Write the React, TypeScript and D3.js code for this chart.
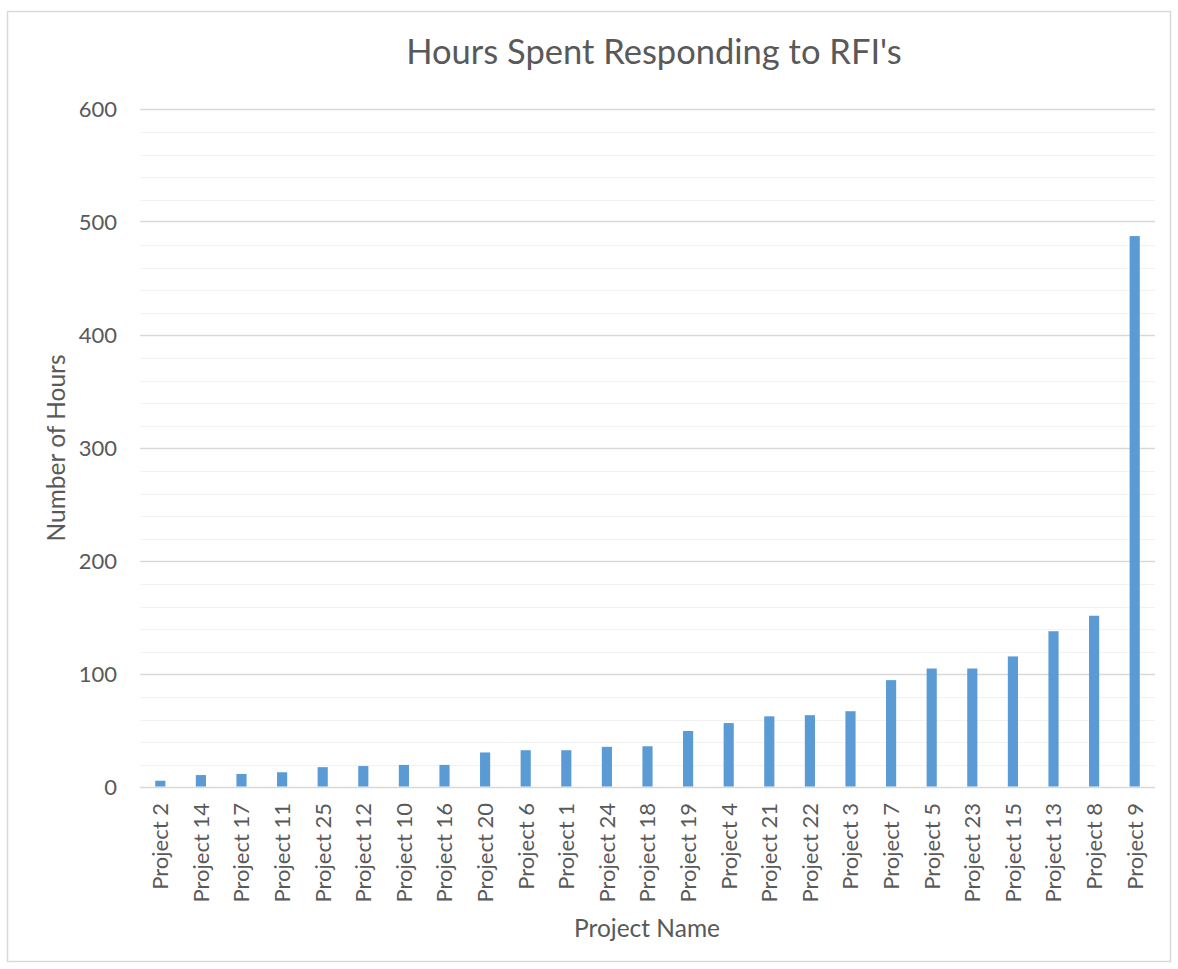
import React from "react";
import * as d3 from "d3";

const categories = [
  "Project 2", "Project 14", "Project 17", "Project 11", "Project 25",
  "Project 12", "Project 10", "Project 16", "Project 20", "Project 6",
  "Project 1", "Project 24", "Project 18", "Project 19", "Project 4",
  "Project 21", "Project 22", "Project 3", "Project 7", "Project 5",
  "Project 23", "Project 15", "Project 13", "Project 8", "Project 9",
];
const hours = [
  6, 11, 12, 13.5, 18, 19, 20, 20, 31, 33,
  33, 36, 36.5, 50, 57, 63, 64, 67.5, 95, 105.3,
  105.3, 116, 138.3, 152, 488,
];
const majorTicks = [0, 100, 200, 300, 400, 500, 600];
const minorTicks = d3.range(0, 601, 20);

const W = 1178;
const H = 969;
const FONT = "Lato, 'Open Sans', sans-serif";
const TXT = "#595959";

export default function App() {
  const x = d3.scaleBand<string>().domain(categories).range([140, 1155]).paddingInner(0).paddingOuter(0);
  const y = d3.scaleLinear().domain([0, 600]).range([787.5, 109.5]);
  const bw = x.bandwidth() / 4;
  return (
    <svg width={W} height={H} style={{ position: "absolute", left: 0, top: 0 }} fontFamily={FONT}>
      <rect x={0} y={0} width={W} height={H} fill="#fff" />
      <rect x={7.5} y={11.5} width={1163} height={950} fill="none" stroke="#d9d9d9" strokeWidth={1.5} />
      <text x={654} y={64} textAnchor="middle" fontSize={34.5} fill={TXT}>Hours Spent Responding to RFI's</text>
      {minorTicks.filter((t) => t % 100 !== 0).map((t) => (
        <line key={"m" + t} x1={140} x2={1155} y1={Math.round(y(t)) + 0.5} y2={Math.round(y(t)) + 0.5} stroke="#f2f2f2" strokeWidth={1.2} />
      ))}
      {majorTicks.map((t) => (
        <line key={"M" + t} x1={140} x2={1155} y1={Math.round(y(t)) - 0.5} y2={Math.round(y(t)) - 0.5} stroke="#d9d9d9" strokeWidth={1.3} />
      ))}
      {majorTicks.map((t) => (
        <text key={"t" + t} x={117} y={y(t)} dy="0.36em" textAnchor="end" fontSize={22} fill={TXT}>{t}</text>
      ))}
      {categories.map((c, i) => (
        <rect key={c} x={(x(c) as number) + x.bandwidth() / 2 - bw / 2} y={y(hours[i])} width={bw} height={y(0) - y(hours[i]) - 1} fill="#5b9bd5" />
      ))}
      {categories.map((c) => (
        <text key={"c" + c} transform={`translate(${(x(c) as number) + x.bandwidth() / 2},803) rotate(-90)`} dy="0.36em" textAnchor="end" fontSize={22} fill={TXT}>{c}</text>
      ))}
      <text transform="translate(65,448) rotate(-90)" textAnchor="middle" fontSize={24.5} fill={TXT}>Number of Hours</text>
      <text x={647} y={937} textAnchor="middle" fontSize={24.5} fill={TXT}>Project Name</text>
    </svg>
  );
}
